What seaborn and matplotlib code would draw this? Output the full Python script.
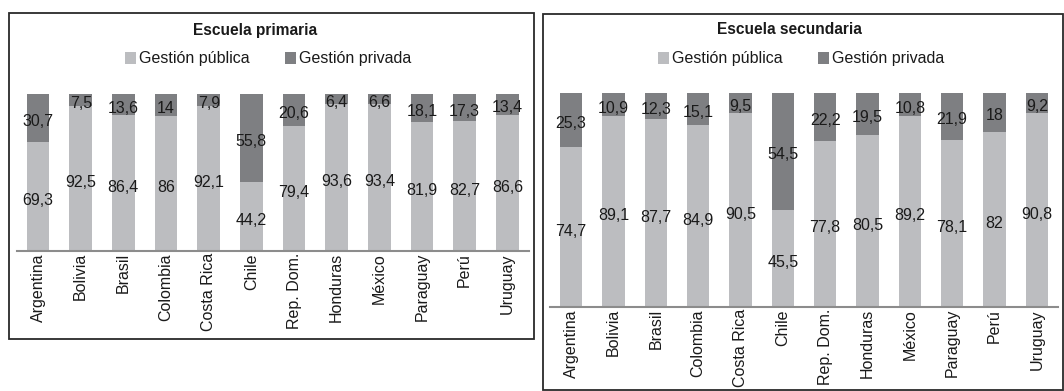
import matplotlib
matplotlib.use("Agg")
import matplotlib.pyplot as plt
from matplotlib.patches import Rectangle, Patch
import seaborn as sns
import pandas as pd

countries = ["Argentina", "Bolivia", "Brasil", "Colombia", "Costa Rica", "Chile",
             "Rep. Dom.", "Honduras", "México", "Paraguay", "Perú", "Uruguay"]

prim_publica = [69.3, 92.5, 86.4, 86, 92.1, 44.2, 79.4, 93.6, 93.4, 81.9, 82.7, 86.6]
prim_privada = [30.7, 7.5, 13.6, 14, 7.9, 55.8, 20.6, 6.4, 6.6, 18.1, 17.3, 13.4]

sec_publica = [74.7, 89.1, 87.7, 84.9, 90.5, 45.5, 77.8, 80.5, 89.2, 78.1, 82, 90.8]
sec_privada = [25.3, 10.9, 12.3, 15.1, 9.5, 54.5, 22.2, 19.5, 10.8, 21.9, 18, 9.2]

titles = ["Escuela primaria", "Escuela secundaria"]
legend_labels = ["Gestión pública", "Gestión privada"]

LIGHT = "#bcbdc0"
DARK = "#7e7f82"
TEXT = "#1a1a1a"
FS = 11.5

sns.set_theme(style="white")
plt.rcParams["font.family"] = ["Liberation Sans", "DejaVu Sans"]

fig = plt.figure(figsize=(10.64, 3.91), dpi=100)
W, H = 1064.0, 391.0


def fmt(v):
    return f"{v:g}".replace(".", ",")


def panel(rect, pub, priv, title, title_x, legend_x, box):
    ax = fig.add_axes(rect)
    df = pd.DataFrame({"country": countries, "publica": pub, "privada": priv})
    df["total"] = df["publica"] + df["privada"]
    sns.barplot(data=df, x="country", y="total", color=DARK, saturation=1,
                width=0.53, edgecolor="none", linewidth=0, ax=ax, errorbar=None)
    sns.barplot(data=df, x="country", y="publica", color=LIGHT, saturation=1,
                width=0.53, edgecolor="none", linewidth=0, ax=ax, errorbar=None)
    for i, (p, q) in enumerate(zip(df["publica"], df["privada"])):
        ax.annotate(fmt(p), (i, p / 2), xytext=(0, -3), textcoords="offset points",
                    ha="center", va="center", fontsize=FS, color=TEXT)
        ax.annotate(fmt(q), (i, p + q / 2), xytext=(0, -2.5), textcoords="offset points",
                    ha="center", va="center", fontsize=FS, color=TEXT)
    ax.set_xlim(-0.5, len(countries) - 0.5)
    ax.set_ylim(0, 100)
    ax.set_yticks([])
    ax.set_xlabel("")
    ax.set_ylabel("")
    for s in ["left", "top", "right"]:
        ax.spines[s].set_visible(False)
    ax.spines["bottom"].set_color("#8c8c8c")
    ax.spines["bottom"].set_linewidth(1.5)
    ax.tick_params(axis="x", length=0, pad=1.5, labelsize=FS, labelcolor=TEXT,
                   rotation=90)
    ax.patch.set_alpha(0)

    fig.text(title_x / W, 1 - 30 / H, title, ha="center", va="center",
             fontsize=11.2, fontweight="bold", color=TEXT)
    handles = [Patch(facecolor=LIGHT, edgecolor="none"),
               Patch(facecolor=DARK, edgecolor="none")]
    fig.legend(handles, legend_labels, loc="center", bbox_to_anchor=(legend_x / W, 1 - 59 / H),
               ncol=2, frameon=False, fontsize=FS, handlelength=0.7, handleheight=0.7,
               handletextpad=0.2, columnspacing=2.2, borderpad=0, labelcolor=TEXT)
    x0, y0, x1, y1 = box
    fig.patches.append(Rectangle((x0 / W, 1 - y1 / H), (x1 - x0) / W, (y1 - y0) / H,
                                 transform=fig.transFigure, fill=False,
                                 edgecolor="#2a2a2a", linewidth=1.3))
    return ax


panel([16.7 / W, (H - 251) / H, 512 / W, 157 / H], prim_publica, prim_privada,
      titles[0], 255, 268, (9, 13, 534, 339))
panel([550 / W, (H - 307) / H, 508 / W, 214 / H], sec_publica, sec_privada,
      titles[1], 789, 801, (543, 14, 1063, 389.5))

fig.savefig("out.png", dpi=100)
